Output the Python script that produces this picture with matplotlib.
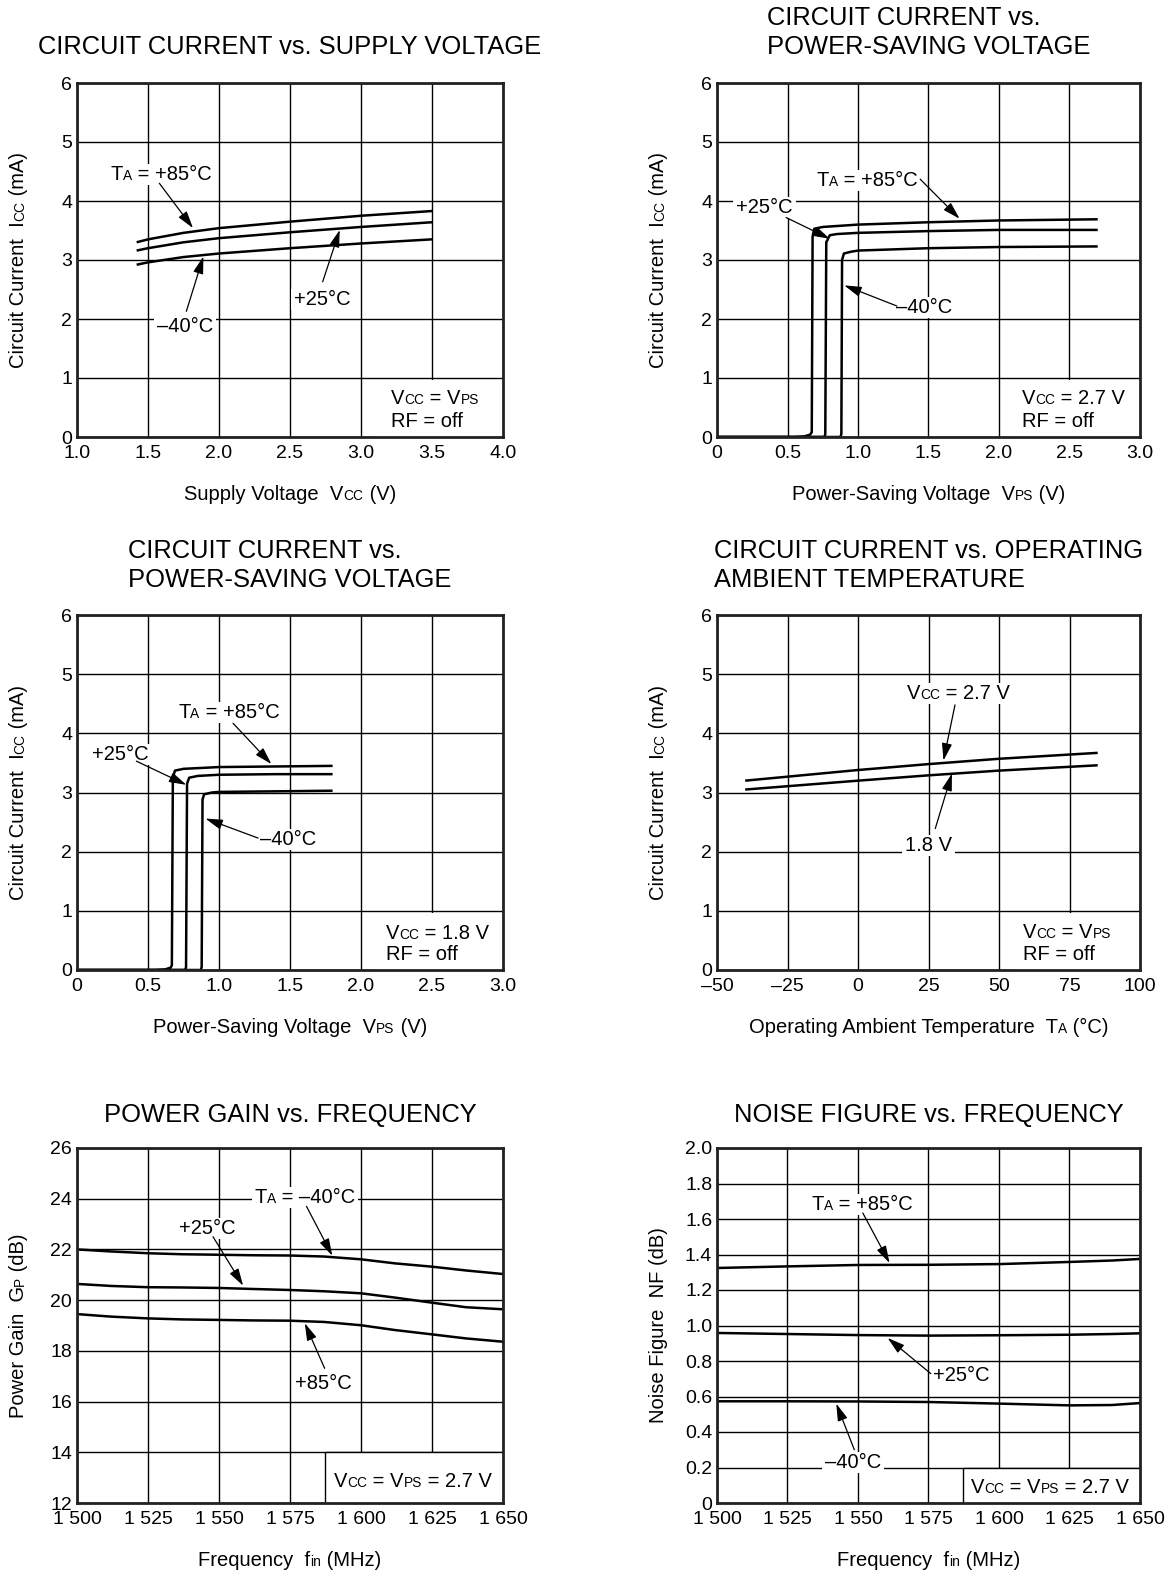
import matplotlib
matplotlib.use('Agg')
import matplotlib.pyplot as plt
from matplotlib.patches import Rectangle
from matplotlib.transforms import IdentityTransform

# ---------------- data ----------------
# 1) circuit current vs supply voltage
vcc_sup = [1.42, 1.5, 1.75, 2.0, 2.5, 3.0, 3.5]
icc_sup_85 = [3.30, 3.35, 3.46, 3.54, 3.65, 3.75, 3.83]
icc_sup_25 = [3.16, 3.20, 3.30, 3.37, 3.47, 3.56, 3.64]
icc_sup_m40 = [2.92, 2.96, 3.05, 3.11, 3.20, 3.28, 3.35]

# 2) circuit current vs power-saving voltage, Vcc = 2.7 V
vps27_85 = [0, 0.55, 0.62, 0.66, 0.672, 0.678, 0.69, 0.75, 1.0, 1.5, 2.0, 2.7]
icc27_85 = [0, 0, 0.01, 0.04, 0.08, 3.40, 3.53, 3.56, 3.60, 3.64, 3.67, 3.69]
vps27_25 = [0, 0.762, 0.768, 0.775, 0.80, 0.85, 1.0, 1.5, 2.0, 2.7]
icc27_25 = [0, 0, 0.05, 3.30, 3.42, 3.44, 3.46, 3.49, 3.51, 3.51]
vps27_m40 = [0, 0.875, 0.882, 0.887, 0.90, 0.95, 1.0, 1.5, 2.0, 2.7]
icc27_m40 = [0, 0, 0.05, 3.00, 3.11, 3.14, 3.16, 3.20, 3.22, 3.23]

# 3) circuit current vs power-saving voltage, Vcc = 1.8 V
vps18_85 = [0, 0.55, 0.62, 0.66, 0.668, 0.675, 0.69, 0.75, 1.0, 1.4, 1.8]
icc18_85 = [0, 0, 0.01, 0.04, 0.08, 3.25, 3.37, 3.40, 3.43, 3.44, 3.45]
vps18_25 = [0, 0.762, 0.768, 0.775, 0.79, 0.85, 1.0, 1.4, 1.8]
icc18_25 = [0, 0, 0.05, 3.15, 3.25, 3.28, 3.30, 3.31, 3.31]
vps18_m40 = [0, 0.872, 0.878, 0.884, 0.895, 0.95, 1.0, 1.4, 1.8]
icc18_m40 = [0, 0, 0.05, 2.88, 2.97, 3.00, 3.01, 3.02, 3.03]

# 4) circuit current vs ambient temperature
ta = [-40, 0, 25, 50, 85]
icc_ta_27 = [3.20, 3.38, 3.48, 3.57, 3.67]
icc_ta_18 = [3.05, 3.20, 3.29, 3.37, 3.46]

# 5) power gain vs frequency
fin_gp = [1500, 1512, 1525, 1537, 1550, 1562, 1575, 1587, 1600, 1612, 1625, 1637, 1650]
gp_m40 = [22.00, 21.92, 21.85, 21.81, 21.79, 21.77, 21.76, 21.72, 21.61, 21.45, 21.32, 21.17, 21.03]
gp_25 = [20.64, 20.56, 20.51, 20.50, 20.48, 20.44, 20.40, 20.35, 20.27, 20.10, 19.90, 19.72, 19.64]
gp_85 = [19.45, 19.35, 19.28, 19.24, 19.22, 19.20, 19.19, 19.14, 19.01, 18.82, 18.65, 18.49, 18.36]

# 6) noise figure vs frequency
fin_nf = [1500, 1525, 1550, 1575, 1600, 1625, 1640, 1650]
nf_85 = [1.324, 1.333, 1.341, 1.342, 1.346, 1.358, 1.366, 1.375]
nf_25 = [0.958, 0.952, 0.946, 0.943, 0.945, 0.948, 0.952, 0.956]
nf_m40 = [0.573, 0.573, 0.572, 0.569, 0.560, 0.550, 0.552, 0.563]

# tick labels
xt_sup = [1.0, 1.5, 2.0, 2.5, 3.0, 3.5, 4.0]
xl_sup = ['1.0', '1.5', '2.0', '2.5', '3.0', '3.5', '4.0']
xt_vps = [0, 0.5, 1.0, 1.5, 2.0, 2.5, 3.0]
xl_vps = ['0', '0.5', '1.0', '1.5', '2.0', '2.5', '3.0']
xt_ta = [-50, -25, 0, 25, 50, 75, 100]
xl_ta = ['\u201350', '\u201325', '0', '25', '50', '75', '100']
xt_f = [1500, 1525, 1550, 1575, 1600, 1625, 1650]
xl_f = ['1 500', '1 525', '1 550', '1 575', '1 600', '1 625', '1 650']
yt_icc = [0, 1, 2, 3, 4, 5, 6]
yl_icc = ['0', '1', '2', '3', '4', '5', '6']
yt_gp = [12, 14, 16, 18, 20, 22, 24, 26]
yl_gp = ['12', '14', '16', '18', '20', '22', '24', '26']
yt_nf = [0, 0.2, 0.4, 0.6, 0.8, 1.0, 1.2, 1.4, 1.6, 1.8, 2.0]
yl_nf = ['0', '0.2', '0.4', '0.6', '0.8', '1.0', '1.2', '1.4', '1.6', '1.8', '2.0']

# ---------------- setup ----------------
FONT = 'Liberation Sans'
plt.rcParams['font.family'] = [FONT, 'DejaVu Sans']

W, H, DPI = 1167, 1575, 100
fig = plt.figure(figsize=(W / DPI, H / DPI), dpi=DPI)
fig.patch.set_facecolor('white')
renderer = fig.canvas.get_renderer()
ID = IdentityTransform()

SMALL = 0.68
TICK_FS, LAB_FS, ANN_FS, TITLE_FS = 14, 14.5, 14.5, 18.4
LW_CURVE, LW_GRID, LW_SPINE = 1.8, 1.0, 2.0


def text_width(s, size):
    t = fig.text(0, 0, s, fontsize=size)
    w = t.get_window_extent(renderer=renderer).width
    t.remove()
    return w


def rich(px, py, parts, size, ha='center', va='center', rot=0, bg=False,
         host=None, z=6):
    """Draw mixed-size text (small-caps style subscripts on baseline).
    px, py: display pixel coordinates of the anchor."""
    host = host if host is not None else fig
    sizes = [size * SMALL if sm else size for _, sm in parts]
    widths = [text_width(s, fs) for (s, _), fs in zip(parts, sizes)]
    total = sum(widths)
    start = {'left': 0.0, 'center': -total / 2, 'right': -total}[ha]
    cap = 0.69 * size * DPI / 72
    base = {'baseline': 0.0, 'center': -cap / 2, 'top': -cap}[va]
    arts = []
    pos = start
    for (s, _), fs, w in zip(parts, sizes, widths):
        if rot == 0:
            x, y = px + pos, py + base
        else:
            x, y = px - base, py + pos
        t = host.text(x, y, s, fontsize=fs, ha='left', va='baseline',
                      rotation=rot, rotation_mode='anchor', transform=ID,
                      zorder=z, color='black')
        arts.append(t)
        pos += w
    if bg:
        bbs = [a.get_window_extent(renderer=renderer) for a in arts]
        x0 = min(b.x0 for b in bbs) - 3
        x1 = max(b.x1 for b in bbs) + 3
        y0 = min(b.y0 for b in bbs) - 1
        y1 = max(b.y1 for b in bbs) + 1
        r = Rectangle((x0, y0), x1 - x0, y1 - y0, transform=ID,
                      facecolor='white', edgecolor='none', zorder=z - 0.5)
        host.add_artist(r)
    return arts


def top_px(y_from_top):
    return H - y_from_top


def make_axes(x0, x1, y0, y1, xlim, ylim, xt, xl, yt, yl):
    ax = fig.add_axes([x0 / W, 1 - y1 / H, (x1 - x0) / W, (y1 - y0) / H])
    ax.set_xlim(*xlim)
    ax.set_ylim(*ylim)
    ax.set_xticks(xt)
    ax.set_xticklabels(xl)
    ax.set_yticks(yt)
    ax.set_yticklabels(yl)
    ax.tick_params(length=0, labelsize=TICK_FS, colors='black')
    ax.tick_params(axis='x', pad=6.0)
    ax.tick_params(axis='y', pad=3.5)
    ax.grid(True, color='black', linewidth=LW_GRID)
    for sp in ax.spines.values():
        sp.set_linewidth(LW_SPINE)
        sp.set_color('#222222')
        sp.set_zorder(3)
    ax.set_facecolor('white')
    return ax


def title(ax_box, lines, off):
    x0, x1, y0 = ax_box
    widths = [text_width(l, TITLE_FS) for l in lines]
    left = (x0 + x1) / 2 - max(widths) / 2
    n = len(lines)
    for i, l in enumerate(lines):
        base = y0 - off - (n - 1 - i) * 29
        fig.text(left, top_px(base), l, fontsize=TITLE_FS, ha='left',
                 va='baseline', transform=ID)


def xlabel(ax_box, parts):
    x0, x1, y1 = ax_box
    rich((x0 + x1) / 2, top_px(y1 + 56), parts, LAB_FS)


def ylabel(ax_box, parts):
    x0, y0, y1 = ax_box
    rich(x0 - 60, top_px((y0 + y1) / 2), parts, LAB_FS, rot=90)


def label(ax, x, y, parts, ha='center'):
    px, py = ax.transData.transform((x, y))
    rich(px, py, parts, ANN_FS, ha=ha, bg=True, host=ax)


def plain(ax, x, y, parts, ha='left'):
    px, py = ax.transData.transform((x, y))
    rich(px, py, parts, ANN_FS, ha=ha, bg=False, host=ax)


def arrow(ax, tail, head):
    ax.annotate('', xy=head, xytext=tail,
                arrowprops=dict(arrowstyle='-|>,head_length=0.75,head_width=0.22',
                                color='black', lw=0.9, shrinkA=0, shrinkB=0,
                                mutation_scale=14),
                zorder=5.7)


def curve(ax, x, y):
    ax.plot(x, y, color='black', lw=LW_CURVE, zorder=2.2,
            solid_capstyle='butt', solid_joinstyle='round')


def whitebox(ax, x0, x1, y0, y1, edge=False):
    ax.add_patch(Rectangle((x0, y0), x1 - x0, y1 - y0, facecolor='white',
                           edgecolor='black' if edge else 'none',
                           linewidth=LW_GRID, zorder=1.8))


LX0, LX1, RX0, RX1 = 77, 503, 717, 1140
ROWS = [(83, 437), (615, 970), (1148, 1503)]
TOFF = [29, 28, 26]

ICC_Y = [('Circuit Current  I', 0), ('CC', 1), (' (mA)', 0)]
DEG = '\u00b0C'
T85 = [('T', 0), ('A', 1), (' = +85' + DEG, 0)]
T25 = [('+25' + DEG, 0)]
T85s = [('+85' + DEG, 0)]
TM40 = [('\u201340' + DEG, 0)]
TAM40 = [('T', 0), ('A', 1), (' = \u201340' + DEG, 0)]
RF = [('RF = off', 0)]
VPS_X = [('Power-Saving Voltage  V', 0), ('PS', 1), (' (V)', 0)]
F_X = [('Frequency  f', 0), ('in', 1), (' (MHz)', 0)]

# ---------------- chart 1 ----------------
y0, y1 = ROWS[0]
ax = make_axes(LX0, LX1, y0, y1, (1.0, 4.0), (0, 6), xt_sup, xl_sup, yt_icc, yl_icc)
whitebox(ax, 3.1, 4.0, 0, 0.97)
curve(ax, vcc_sup, icc_sup_85)
curve(ax, vcc_sup, icc_sup_25)
curve(ax, vcc_sup, icc_sup_m40)
label(ax, 1.594, 4.47, T85)
arrow(ax, (1.58, 4.30), (1.817, 3.54))
label(ax, 2.73, 2.35, T25)
arrow(ax, (2.73, 2.63), (2.85, 3.51))
label(ax, 1.758, 1.90, TM40)
arrow(ax, (1.77, 2.13), (1.89, 3.06))
plain(ax, 3.21, 0.68, [('V', 0), ('CC', 1), (' = V', 0), ('PS', 1)])
plain(ax, 3.21, 0.29, RF)
title((LX0, LX1, y0), ['CIRCUIT CURRENT vs. SUPPLY VOLTAGE'], TOFF[0])
xlabel((LX0, LX1, y1), [('Supply Voltage  V', 0), ('CC', 1), (' (V)', 0)])
ylabel((LX0, y0, y1), ICC_Y)

# ---------------- chart 2 ----------------
ax = make_axes(RX0, RX1, y0, y1, (0, 3.0), (0, 6), xt_vps, xl_vps, yt_icc, yl_icc)
whitebox(ax, 2.08, 3.0, 0, 0.97)
curve(ax, vps27_85, icc27_85)
curve(ax, vps27_25, icc27_25)
curve(ax, vps27_m40, icc27_m40)
label(ax, 1.063, 4.37, T85)
arrow(ax, (1.441, 4.37), (1.72, 3.70))
label(ax, 0.335, 3.91, T25)
arrow(ax, (0.49, 3.72), (0.80, 3.36))
label(ax, 1.47, 2.22, TM40)
arrow(ax, (1.276, 2.22), (0.902, 2.57))
plain(ax, 2.16, 0.675, [('V', 0), ('CC', 1), (' = 2.7 V', 0)])
plain(ax, 2.16, 0.29, RF)
title((RX0, RX1, y0), ['CIRCUIT CURRENT vs.', 'POWER-SAVING VOLTAGE'], TOFF[0])
xlabel((RX0, RX1, y1), VPS_X)
ylabel((RX0, y0, y1), ICC_Y)

# ---------------- chart 3 ----------------
y0, y1 = ROWS[1]
ax = make_axes(LX0, LX1, y0, y1, (0, 3.0), (0, 6), xt_vps, xl_vps, yt_icc, yl_icc)
whitebox(ax, 2.1, 3.0, 0, 0.97)
curve(ax, vps18_85, icc18_85)
curve(ax, vps18_25, icc18_25)
curve(ax, vps18_m40, icc18_m40)
label(ax, 1.068, 4.37, T85)
arrow(ax, (1.099, 4.17), (1.369, 3.48))
label(ax, 0.305, 3.66, T25)
arrow(ax, (0.418, 3.53), (0.77, 3.13))
label(ax, 1.486, 2.23, TM40)
arrow(ax, (1.275, 2.23), (0.904, 2.56))
plain(ax, 2.174, 0.648, [('V', 0), ('CC', 1), (' = 1.8 V', 0)])
plain(ax, 2.174, 0.28, RF)
title((LX0, LX1, y0), ['CIRCUIT CURRENT vs.', 'POWER-SAVING VOLTAGE'], TOFF[1])
xlabel((LX0, LX1, y1), VPS_X)
ylabel((LX0, y0, y1), ICC_Y)

# ---------------- chart 4 ----------------
ax = make_axes(RX0, RX1, y0, y1, (-50, 100), (0, 6), xt_ta, xl_ta, yt_icc, yl_icc)
whitebox(ax, 55, 100, 0, 0.97)
curve(ax, ta, icc_ta_27)
curve(ax, ta, icc_ta_18)
label(ax, 35.7, 4.70, [('V', 0), ('CC', 1), (' = 2.7 V', 0)])
arrow(ax, (34.4, 4.48), (30.3, 3.54))
label(ax, 25.0, 2.13, [('1.8 V', 0)])
arrow(ax, (27.4, 2.39), (33.3, 3.32))
plain(ax, 58.4, 0.665, [('V', 0), ('CC', 1), (' = V', 0), ('PS', 1)])
plain(ax, 58.4, 0.29, RF)
title((RX0, RX1, y0), ['CIRCUIT CURRENT vs. OPERATING', 'AMBIENT TEMPERATURE'], TOFF[1])
xlabel((RX0, RX1, y1), [('Operating Ambient Temperature  T', 0), ('A', 1), (' (' + DEG + ')', 0)])
ylabel((RX0, y0, y1), ICC_Y)

# ---------------- chart 5 ----------------
y0, y1 = ROWS[2]
ax = make_axes(LX0, LX1, y0, y1, (1500, 1650), (12, 26), xt_f, xl_f, yt_gp, yl_gp)
whitebox(ax, 1587.2, 1651, 11.9, 14, edge=True)
curve(ax, fin_gp, gp_m40)
curve(ax, fin_gp, gp_25)
curve(ax, fin_gp, gp_85)
label(ax, 1580.3, 24.12, TAM40)
arrow(ax, (1580.8, 23.7), (1589.9, 21.75))
label(ax, 1545.8, 22.9, T25)
arrow(ax, (1547.9, 22.5), (1558.5, 20.57))
label(ax, 1586.6, 16.78, T85s)
arrow(ax, (1587.2, 17.31), (1580.2, 19.09))
plain(ax, 1618.3, 12.92, [('V', 0), ('CC', 1), (' = V', 0), ('PS', 1), (' = 2.7 V', 0)], ha='center')
title((LX0, LX1, y0), ['POWER GAIN vs. FREQUENCY'], TOFF[2])
xlabel((LX0, LX1, y1), F_X)
ylabel((LX0, y0, y1), [('Power Gain  G', 0), ('P', 1), (' (dB)', 0)])

# ---------------- chart 6 ----------------
ax = make_axes(RX0, RX1, y0, y1, (1500, 1650), (0, 2.0), xt_f, xl_f, yt_nf, yl_nf)
whitebox(ax, 1587.2, 1651, -0.01, 0.2, edge=True)
curve(ax, fin_nf, nf_85)
curve(ax, fin_nf, nf_25)
curve(ax, fin_nf, nf_m40)
label(ax, 1551.6, 1.69, T85)
arrow(ax, (1551.7, 1.634), (1561.2, 1.352))
label(ax, 1586.8, 0.729, T25)
arrow(ax, (1575.8, 0.729), (1560.5, 0.93))
label(ax, 1548.1, 0.235, TM40)
arrow(ax, (1548.7, 0.30), (1542.3, 0.56))
plain(ax, 1618.1, 0.094, [('V', 0), ('CC', 1), (' = V', 0), ('PS', 1), (' = 2.7 V', 0)], ha='center')
title((RX0, RX1, y0), ['NOISE FIGURE vs. FREQUENCY'], TOFF[2])
xlabel((RX0, RX1, y1), F_X)
ylabel((RX0, y0, y1), [('Noise Figure  NF (dB)', 0)])

fig.savefig('out.png', dpi=DPI, facecolor='white')
